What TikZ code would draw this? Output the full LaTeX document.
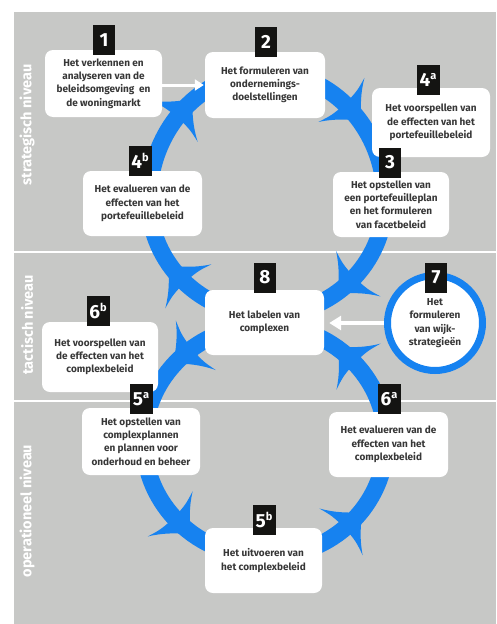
\documentclass[tikz,border=0pt]{standalone}
\usepackage{fontspec}
\setmainfont{Fira Sans}
\usetikzlibrary{arrows.meta}
\definecolor{bggray}{RGB}{199,200,198}
\definecolor{cycblue}{RGB}{22,130,240}
\definecolor{txtgray}{RGB}{55,55,55}
\definecolor{badgeblack}{RGB}{20,20,18}
\newcommand\boxfont{\bfseries\fontsize{10}{13.3}\selectfont}
\newcommand\badgefont{\bfseries\fontsize{19}{19}\selectfont}
\newcommand\levelfont{\bfseries\fontsize{14.5}{15}\selectfont}
\newcommand\supl[1]{\raisebox{7pt}{\fontsize{11}{11}\selectfont #1}}
\begin{document}
\begin{tikzpicture}[x=1pt,y=1pt,
  stepbox/.style={fill=white, rounded corners=8pt, align=center, inner sep=0pt, font=\boxfont, text=txtgray},
  badge/.style={fill=badgeblack, text=white, minimum width=22pt, minimum height=30pt, inner sep=0pt, font=\badgefont},
  levellabel/.style={rotate=90, text=white, font=\levelfont},
  divider/.style={draw=white, line width=2pt},
  band/.style={draw=cycblue, line width=17pt},
  warrow/.style={draw=white, line width=3pt, -{Triangle[length=9pt,width=11pt]}},
  barb/.pic={\fill[cycblue, scale=1.1] (16,0) .. controls (6,9) and (-2,16) .. (-10,29) .. controls (-6,16) .. (-5,0) .. controls (-6,-16) .. (-10,-29) .. controls (-2,-16) and (6,-9) .. cycle;}
]
\useasboundingbox (0,0) rectangle (496,-624);
\fill[white] (0,0) rectangle (496,-624);
\fill[bggray] (14,-12) rectangle (496,-624);
\draw[divider] (14,-252) -- (496,-252);
\draw[divider] (14,-401) -- (496,-401);

\node[levellabel] (lvs) at (27,-125) {strategisch niveau};
\node[levellabel] (lvt) at (27,-325) {tactisch niveau};
\node[levellabel] (lvo) at (27,-511) {operationeel niveau};

% cycle bands
\coordinate (upc) at (267,-200);
\coordinate (loc) at (265,-441);
\draw[band] (385,-200) arc[start angle=0, end angle=180, x radius=118, y radius=128]
                     arc[start angle=180, end angle=360, x radius=118, y radius=115] -- cycle;
\draw[band] (loc) ellipse[x radius=121, y radius=116];

\pic[rotate=49.3] at (180.7,-112.7) {barb};
\pic[rotate=-46.3] at (349.0,-107.9) {barb};
\pic[rotate=224.3] at (350.4,-281.3) {barb};
\pic[rotate=133.7] at (180.7,-278.4) {barb};
\pic[rotate=218.8] at (187.2,-352.1) {barb};
\pic[rotate=315.2] at (178.0,-521.6) {barb};
\pic[rotate=42.8] at (349.1,-524.4) {barb};
\pic[rotate=136.2] at (350.6,-359.0) {barb};

% boxes
\node[stepbox, minimum width=117pt, minimum height=67pt] (b1) at (103.5,-83.5)
  {Het verkennen en\\analyseren van de\\beleidsomgeving\ \ en\\de woningmarkt};
\node[stepbox, minimum width=120pt, minimum height=66pt] (b2) at (265,-85)
  {Het formuleren van\\ondernemings-\\doelstellingen};
\node[stepbox, minimum width=118pt, minimum height=69pt] (b4a) at (431,-122.5)
  {Het voorspellen van\\de effecten van het\\portefeuillebeleid};
\node[stepbox, minimum width=116pt, minimum height=65pt] (b3) at (391,-204.5)
  {Het opstellen van\\een portefeuilleplan\\en het formuleren\\van facetbeleid};
\node[stepbox, minimum width=119pt, minimum height=65pt] (b4b) at (142.5,-203.5)
  {Het evalueren van de\\effecten van het\\portefeuillebeleid};
\node[stepbox, minimum width=119pt, minimum height=65pt] (b8) at (264.5,-322.5)
  {Het labelen van\\complexen};
\node[stepbox, minimum width=116pt, minimum height=70pt] (b6b) at (100,-357)
  {Het voorspellen van\\de effecten van het\\complexbeleid};
\node[stepbox, minimum width=118pt, minimum height=67pt] (b5a) at (141,-441.5)
  {Het opstellen van\\complexplannen\\en plannen voor\\onderhoud en beheer};
\node[stepbox, minimum width=119pt, minimum height=65pt] (b6a) at (388.5,-444.5)
  {Het evalueren van de\\effecten van het\\complexbeleid};
\node[stepbox, minimum width=117pt, minimum height=65pt] (b5b) at (263.5,-560.5)
  {Het uitvoeren van\\het complexbeleid};
\node[circle, draw=cycblue, line width=7pt, fill=white, minimum size=95pt, inner sep=0pt,
      align=center, font=\boxfont, text=txtgray] (c7) at (435,-323)
  {Het\\formuleren\\van wijk-\\strategieën};

% white arrows
\draw[warrow, shorten >=1pt] ([yshift=-1.5pt]b1.east) -- ([yshift=-1.5pt]b1.east -| b2.west);
\draw[draw=white, line width=4pt, -{Triangle[length=12pt,width=14pt]}, shorten >=5pt] (c7.west) -- (c7.west -| b8.east);

% badges
\node[badge] (n1) at (104,-40) {1};
\node[badge] (n2) at (266,-42) {2};
\node[badge, minimum width=23pt] (n4a) at (428,-80) {4\supl{a}};
\node[badge] (n3) at (390,-162.5) {3};
\node[badge, minimum width=23pt] (n4b) at (140,-161) {4\supl{b}};
\node[badge] (n8) at (265,-277.5) {8};
\node[badge] (n7) at (436,-277.5) {7};
\node[badge, minimum width=23pt] (n6b) at (98,-311) {6\supl{b}};
\node[badge, minimum width=23pt] (n5a) at (141,-399) {5\supl{a}};
\node[badge, minimum width=23pt] (n6a) at (389,-399) {6\supl{a}};
\node[badge, minimum width=23pt] (n5b) at (264,-520) {5\supl{b}};
\end{tikzpicture}
\end{document}
